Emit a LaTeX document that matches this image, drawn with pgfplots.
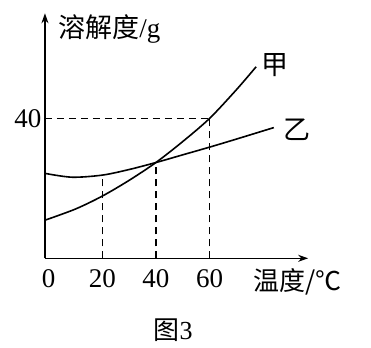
\documentclass[border=0pt]{standalone}
\usepackage{fontspec}
\setmainfont{Liberation Serif}
\newfontfamily\cjk{Noto Sans CJK SC}
\usepackage{pgfplots}
\pgfplotsset{compat=1.18}
\usetikzlibrary{arrows.meta}
\pgfplotstableread{
x y
-1.4 10.9
10 14.1
20 17.8
30 22.3
40 27.4
50 33.4
60 40.0
70 48.2
77.4 54.8
}\jia
\pgfplotstableread{
x y
-1.4 24.3
8.7 23.2
20 23.8
30 25.4
40 27.4
50 29.6
60 31.8
70 34.1
84 37.4
}\yi
\begin{document}
\begin{tikzpicture}
\useasboundingbox (-48.7pt,-88.7pt) rectangle (322.3pt,258.3pt);
\begin{axis}[
  at={(-3.752pt,0pt)}, anchor=south west,
  x=2.68pt, y=3.495pt,
  xmin=-1.4, xmax=96.8, ymin=0, ymax=70.1,
  axis lines=left,
  axis line style={line width=1.4pt, -{Stealth[length=10pt,width=7pt]}},
  xtick={0,20,40,60}, ytick={40},
  major tick length=0pt,
  tick label style={font=\fontsize{27}{27}\selectfont},
  xticklabel style={yshift=-8pt},
  /pgf/number format/assume math mode=true,
  clip=false,
]
\addplot[black, line width=1.6pt, smooth] table {\jia};
\addplot[black, line width=1.6pt, smooth] table {\yi};
\addplot[black, line width=1.3pt, dash pattern=on 7pt off 5pt] coordinates {(-1.4,40) (60,40)};
\addplot[black, line width=1.3pt, dash pattern=on 7pt off 5pt] coordinates {(60,0) (60,40)};
\addplot[black, line width=1.3pt, dash pattern=on 7pt off 5pt] coordinates {(40,0) (40,27.4)};
\addplot[black, line width=1.3pt, dash pattern=on 7pt off 5pt] coordinates {(20,0) (20,23.8)};
\node[font=\fontsize{27}{27}\selectfont] at (axis cs:84.6,55.3) {\cjk 甲};
\node[font=\fontsize{27}{27}\selectfont] at (axis cs:92.6,36.7) {\cjk 乙};
\node[font=\fontsize{27}{27}\selectfont, anchor=west, inner sep=0pt] at (axis cs:3.5,65.7) {{\cjk 溶解度}/g};
\node[font=\fontsize{26}{26}\selectfont, anchor=west, inner sep=0pt] at (axis cs:76.3,-6.6) {{\cjk 温度/℃}};
\node[font=\fontsize{26}{26}\selectfont] at (axis cs:46.4,-20.5) {{\cjk 图}3};
\end{axis}
\end{tikzpicture}
\end{document}
